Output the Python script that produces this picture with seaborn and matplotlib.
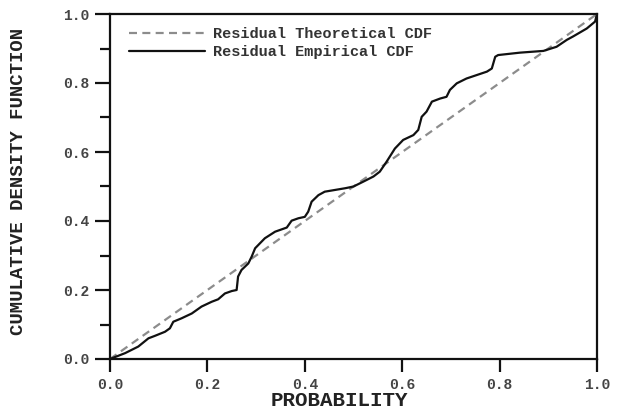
import numpy as np
import pandas as pd
import matplotlib
matplotlib.use("Agg")
import matplotlib.pyplot as plt
import seaborn as sns
from matplotlib.ticker import MultipleLocator

# ---- data ----
theo_x = [0.0, 1.0]
theo_y = [0.0, 1.0]

emp_x = [0.0, 0.031, 0.058, 0.079, 0.092, 0.113, 0.123, 0.130, 0.147, 0.168,
         0.188, 0.209, 0.222, 0.236, 0.250, 0.260, 0.263, 0.270, 0.284, 0.291,
         0.298, 0.318, 0.339, 0.363, 0.373, 0.387, 0.400, 0.407, 0.414, 0.428,
         0.441, 0.462, 0.483, 0.500, 0.520, 0.541, 0.554, 0.568, 0.585, 0.602,
         0.623, 0.633, 0.640, 0.650, 0.661, 0.678, 0.691, 0.698, 0.712, 0.732,
         0.753, 0.774, 0.784, 0.791, 0.797, 0.842, 0.890, 0.917, 0.938, 0.951,
         0.979, 0.996, 1.0]
emp_y = [0.0, 0.017, 0.036, 0.060, 0.067, 0.079, 0.089, 0.108, 0.118, 0.132,
         0.152, 0.166, 0.173, 0.190, 0.197, 0.200, 0.239, 0.258, 0.277, 0.297,
         0.321, 0.350, 0.369, 0.381, 0.401, 0.408, 0.412, 0.427, 0.456, 0.475,
         0.485, 0.490, 0.495, 0.500, 0.514, 0.529, 0.543, 0.572, 0.610, 0.635,
         0.649, 0.664, 0.702, 0.717, 0.746, 0.755, 0.760, 0.780, 0.799, 0.813,
         0.823, 0.833, 0.842, 0.876, 0.881, 0.888, 0.893, 0.905, 0.925, 0.935,
         0.958, 0.978, 1.0]

x_ticks = [0.0, 0.2, 0.4, 0.6, 0.8, 1.0]
y_ticks = [0.0, 0.2, 0.4, 0.6, 0.8, 1.0]
x_label = "PROBABILITY"
y_label = "CUMULATIVE DENSITY FUNCTION"
theo_label = "Residual Theoretical CDF"
emp_label = "Residual Empirical CDF"

sns.set_style("ticks")
plt.rcParams["font.family"] = ["Liberation Mono", "DejaVu Sans Mono"]
plt.rcParams["font.weight"] = "bold"

fig = plt.figure(figsize=(6.25, 4.09), dpi=100)
ax = fig.add_axes([110/625, 1-359/409, 487/625, 345/409])

df_t = pd.DataFrame({"x": theo_x, "y": theo_y})
df_e = pd.DataFrame({"x": emp_x, "y": emp_y})

sns.lineplot(data=df_t, x="x", y="y", ax=ax, color="#8c8c8c", lw=1.6,
             linestyle=(0, (3.6, 2.4)), label=theo_label, sort=False)
sns.lineplot(data=df_e, x="x", y="y", ax=ax, color="#111111", lw=1.6,
             label=emp_label, sort=False)

ax.set_xlim(0, 1)
ax.set_ylim(0, 1)
ax.set_xticks(x_ticks)
ax.set_yticks(y_ticks)
ax.set_xticklabels([f"{v:.1f}" for v in x_ticks])
ax.set_yticklabels([f"{v:.1f}" for v in y_ticks])
ax.yaxis.set_minor_locator(MultipleLocator(0.1))

for s in ax.spines.values():
    s.set_linewidth(1.6)
    s.set_color("#111111")

ax.tick_params(axis="y", which="major", length=11, width=1.6, color="#111111",
               labelsize=10.5, labelcolor="#444444", pad=4)
ax.tick_params(axis="y", which="minor", length=7, width=1.6, color="#111111")
ax.tick_params(axis="x", which="major", length=9, width=1.6, color="#111111",
               labelsize=10.5, labelcolor="#444444", pad=5)

ax.set_xlabel(x_label, fontsize=15, fontweight="bold", color="#222222")
ax.set_ylabel(y_label, fontsize=13.7, fontweight="bold", color="#222222")
ax.xaxis.label.set_va("baseline")
ax.xaxis.set_label_coords(0.47, -0.137)
ax.yaxis.set_label_coords(-0.170, 0.516)

leg = ax.legend(loc="upper left", bbox_to_anchor=(0.038, 0.962), frameon=False,
                fontsize=11, handlelength=5.0, handletextpad=0.5,
                labelspacing=0.25, borderpad=0, borderaxespad=0)
for t in leg.get_texts():
    t.set_color("#333333")

fig.savefig("out.png", dpi=100)
